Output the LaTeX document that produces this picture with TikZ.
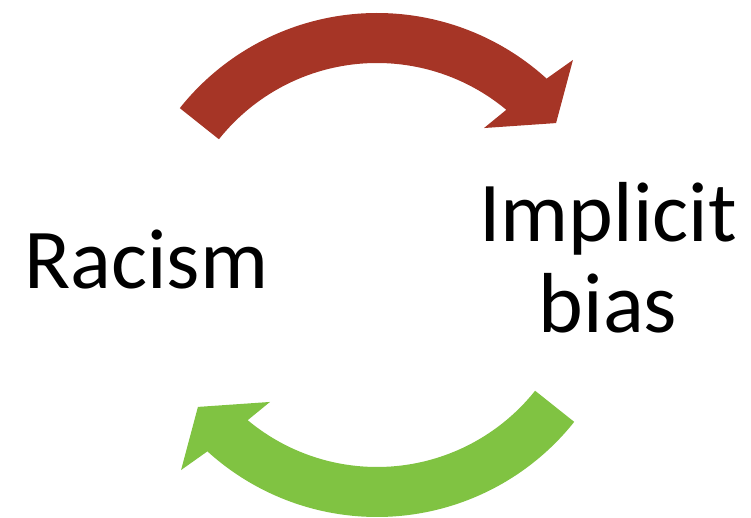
\documentclass[tikz,border=0pt]{standalone}
\usepackage{fontspec}
\setmainfont{Carlito}
\definecolor{arrowred}{RGB}{166,53,38}
\definecolor{arrowgreen}{RGB}{128,195,66}
\begin{document}
\begin{tikzpicture}[x=1bp,y=1bp,
  label/.style={inner sep=0pt,font=\fontsize{85.5}{92}\selectfont,text=black}]
\useasboundingbox (0,0) rectangle (751,518);
\coordinate (c) at (377,253);
% red arrow (Racism -> Implicit bias)
\fill[arrowred,shift={(c)}]
  (141.5:252) arc[start angle=141.5,end angle=47.7,radius=252]
  -- (46.3:283.6) -- (38.4:228.5) -- (52:173.8) -- (50.2:202)
  arc[start angle=50.2,end angle=141.5,radius=202] -- cycle;
% green arrow (Implicit bias -> Racism)
\fill[arrowgreen,shift={(c)}]
  (321.5:252) arc[start angle=321.5,end angle=227.7,radius=252]
  -- (226.3:283.6) -- (218.4:228.5) -- (232:173.8) -- (230.2:202)
  arc[start angle=230.2,end angle=321.5,radius=202] -- cycle;
\node[label,anchor=base west] (racism) at (24,229) {Racism};
\node[label,anchor=base,align=center] (bias) at (608,185) {Implicit\\bias};
\end{tikzpicture}
\end{document}
